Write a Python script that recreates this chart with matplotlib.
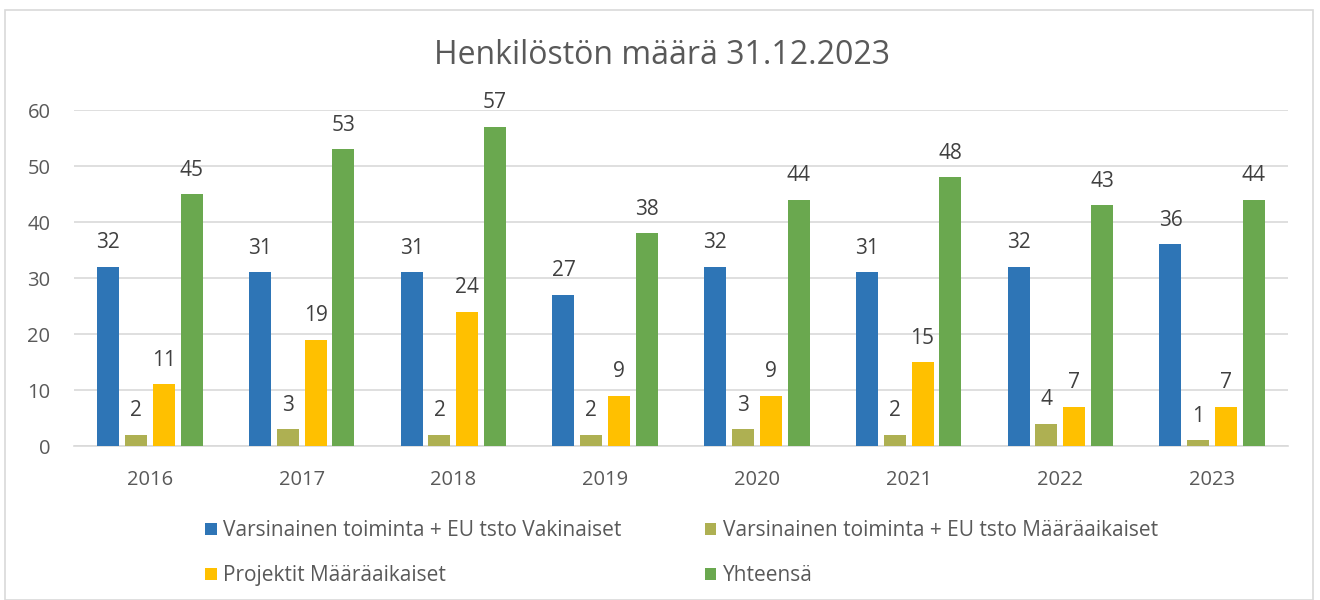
import matplotlib
matplotlib.use("Agg")
import matplotlib.pyplot as plt
import numpy as np
from matplotlib.patches import Rectangle

years = ["2016", "2017", "2018", "2019", "2020", "2021", "2022", "2023"]
vakinaiset = [32, 31, 31, 27, 32, 31, 32, 36]
maaraaikaiset = [2, 3, 2, 2, 3, 2, 4, 1]
projektit = [11, 19, 24, 9, 9, 15, 7, 7]
yhteensa = [45, 53, 57, 38, 44, 48, 43, 44]

series = [
    ("Varsinainen toiminta + EU tsto Vakinaiset", vakinaiset, "#2e75b6"),
    ("Varsinainen toiminta + EU tsto Määräaikaiset", maaraaikaiset, "#aeb052"),
    ("Projektit Määräaikaiset", projektit, "#ffc000"),
    ("Yhteensä", yhteensa, "#6aa84f"),
]

plt.rcParams['font.family'] = ['Open Sans', 'DejaVu Sans']
txt = "#595959"

fig = plt.figure(figsize=(13.2, 6), dpi=100)
fig.patches.append(Rectangle((5/1320, 0), 1308/1320, 590/600, transform=fig.transFigure,
                             fill=False, edgecolor="#d9d9d9", linewidth=1.2))
ax = fig.add_axes([74/1320, 1 - 446/600, (1288-74)/1320, (446-110)/600])

x = np.arange(len(years))
step = 0.183
width = 0.145
handles = []
for i, (name, vals, col) in enumerate(series):
    pos = x + (i - 1.5) * step
    bars = ax.bar(pos, vals, width=width, color=col, label=name, zorder=3)
    handles.append(bars)
    for p, v in zip(pos, vals):
        ax.text(p, v + 2.4, str(v), ha="center", va="bottom", fontsize=15, color="#404040")

ax.set_xlim(-0.5, len(years) - 0.5)
ax.set_ylim(0, 60)
ax.set_yticks(range(0, 61, 10))
ax.set_xticks(x)
ax.set_xticklabels(years)
ax.tick_params(axis="both", length=0, labelsize=14.5, colors=txt)
ax.tick_params(axis="y", pad=17)
ax.tick_params(axis="x", pad=17)
ax.grid(axis="y", color="#d9d9d9", linewidth=1.2, zorder=0)
for s in ["top", "right", "left"]:
    ax.spines[s].set_visible(False)
ax.spines["bottom"].set_color("#d9d9d9")
ax.spines["bottom"].set_linewidth(1.2)

fig.text(662/1320, 1 - 55/600, "Henkilöstön määrä 31.12.2023", ha="center", va="center",
         fontsize=23, color=txt)

order = [0, 2, 1, 3]
leg = fig.legend([handles[i] for i in order], [series[i][0] for i in order], ncol=2,
                 loc="upper left", bbox_to_anchor=(195/1320, 1 - 510/600),
                 frameon=False, fontsize=15, handlelength=0.55, handleheight=0.55,
                 handletextpad=0.3, columnspacing=4.0, labelspacing=1.15, borderpad=0)
for t in leg.get_texts():
    t.set_color(txt)

fig.savefig("out.png", dpi=100)
